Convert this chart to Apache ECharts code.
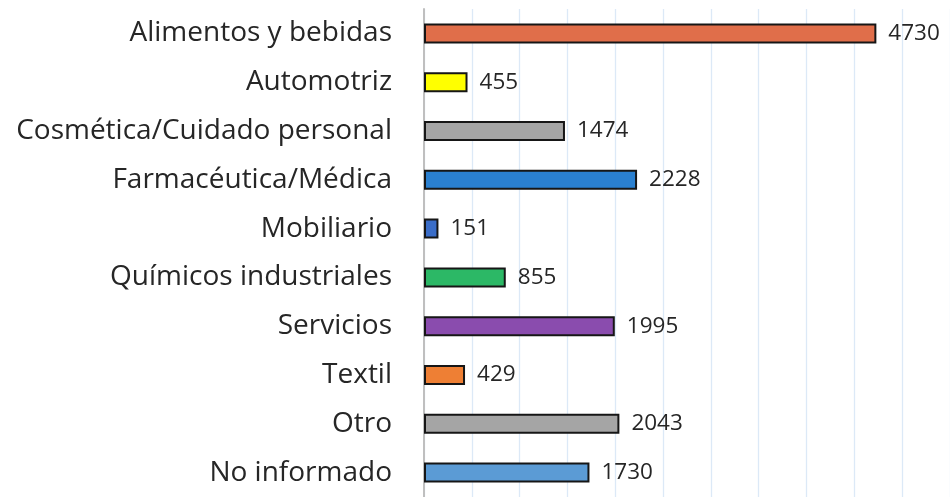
<!DOCTYPE html>
<html lang="es">
<head>
    <meta charset="utf-8">
    <title>Sectores</title>
    <script src="https://cdn.jsdelivr.net/npm/echarts@6/dist/echarts.min.js"></script>
    <style>
        html, body { margin: 0; padding: 0; background: #fff; }
        #main { width: 950px; height: 497px; }
    </style>
</head>
<body>
<div id="main"></div>

<script type="text/javascript">
    // datos (de arriba hacia abajo)
    var categorias = ['Alimentos y bebidas', 'Automotriz', 'Cosmética/Cuidado personal',
        'Farmacéutica/Médica', 'Mobiliario', 'Químicos industriales', 'Servicios',
        'Textil', 'Otro', 'No informado'];
    var valores = [4730, 455, 1474, 2228, 151, 855, 1995, 429, 2043, 1730];
    var colores = ['#E06E4A', '#FFFF00', '#A5A5A5', '#2A80D0', '#3A6DC8', '#2CB866',
        '#8A4CAE', '#EE7F34', '#A5A5A5', '#5B9BD5'];

    var myChart = echarts.init(document.getElementById('main'));

    myChart.setOption({
        animation: false,
        grid: {
            left: 424,
            right: 0,
            top: 9,
            height: 492,
            containLabel: false
        },
        xAxis: {
            type: 'value',
            min: 0,
            max: 5500,
            interval: 500,
            axisLabel: { show: false },
            axisLine: { show: false },
            axisTick: { show: false },
            splitLine: { lineStyle: { color: '#DCE9F7', width: 1.3 } }
        },
        yAxis: {
            type: 'category',
            inverse: true,
            data: categorias,
            axisLine: { lineStyle: { color: '#BFBFBF', width: 2 } },
            axisTick: { show: false },
            axisLabel: {
                margin: 32,
                color: '#262626',
                fontFamily: 'Open Sans',
                fontSize: 28
            }
        },
        series: [{
            type: 'bar',
            barWidth: 20,
            data: valores.map(function (v, i) {
                return { value: v, itemStyle: { color: colores[i] } };
            }),
            itemStyle: { borderColor: '#161616', borderWidth: 2 },
            label: {
                show: true,
                position: 'right',
                distance: 12,
                color: '#262626',
                fontFamily: 'Open Sans',
                fontSize: 22.5
            }
        }]
    });
</script>
</body>
</html>
